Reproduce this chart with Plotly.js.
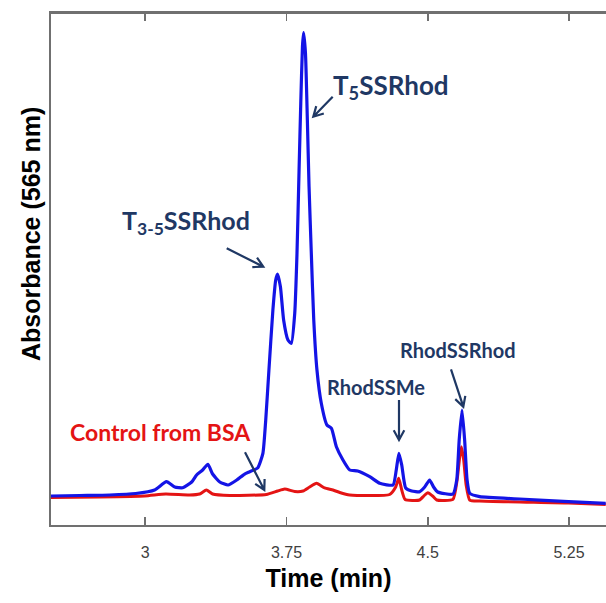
<!DOCTYPE html>
<html>
<head>
<meta charset="utf-8">
<script src="https://cdn.plot.ly/plotly-3.0.1.min.js"></script>
<style>html,body{margin:0;padding:0;background:#fff;}#chart{width:606px;height:603px;}</style>
</head>
<body>
<div id="chart"></div>
<script>
// Sample (blue) chromatogram: time (min) and absorbance (arb. units)
const sampleTime = [2.50,2.652,2.811,2.95,3.05,3.113,3.157,3.199,3.247,3.273,3.305,3.333,3.358,3.396,3.44,3.486,3.528,3.555,3.597,3.625,3.640,3.657,3.678,3.693,3.703,3.718,3.735,3.758,3.776,3.794,3.806,3.817,3.826,3.835,3.841,3.851,3.861,3.870,3.882,3.895,3.912,3.935,3.965,3.989,4.015,4.050,4.086,4.128,4.192,4.245,4.316,4.333,4.347,4.362,4.383,4.415,4.457,4.484,4.510,4.531,4.553,4.634,4.654,4.667,4.682,4.696,4.709,4.723,4.776,4.988,5.248,5.445];
const sampleAbs  = [5.66,5.76,5.86,6.15,6.84,8.46,7.42,7.29,8.4,9.77,10.74,11.86,9.96,8.4,7.81,8.79,9.96,10.41,11.13,14.0,20.5,30.27,41.99,47.85,49.02,46.54,40.04,36.13,35.49,41.35,53.07,69.34,82.42,93.42,96.15,92.13,79.1,66.07,53.07,40.04,30.27,23.77,19.53,18.89,15.29,12.7,10.74,10.55,9.43,8.14,7.81,10.74,14.0,11.72,7.23,6.64,6.5,7.42,8.79,7.42,6.45,6.05,8.79,16.6,22.46,16.6,8.79,6.19,5.53,5.08,4.55,4.24];

// Control from BSA (red) chromatogram
const controlTime = [2.50,2.758,2.997,3.109,3.236,3.289,3.325,3.358,3.449,3.643,3.703,3.741,3.794,3.838,3.873,3.910,3.953,3.997,4.033,4.086,4.298,4.330,4.346,4.362,4.380,4.457,4.479,4.501,4.526,4.548,4.634,4.656,4.668,4.679,4.691,4.704,4.723,4.776,5.248,5.445];
const controlAbs  = [5.37,5.47,5.66,6.05,5.86,6.05,6.84,6.05,5.76,5.96,6.64,7.03,6.54,6.64,7.42,8.14,7.23,6.84,6.35,5.86,5.96,7.42,9.12,6.84,4.98,4.88,5.66,6.31,5.66,4.88,5.02,8.79,12.7,15.29,12.7,7.81,4.88,4.69,4.3,4.0];

const tickVals = [3, 3.75, 4.5, 5.25];
const tickText = ["3", "3.75", "4.5", "5.25"];

// layout geometry (pixels)
const L = 51, TOP = 13, W = 555, H = 512, BOT = TOP + H;
function px(x, y) { return [(x - L) / W, (BOT - y) / H]; }

const navy = "#1f3864";
const axisGray = "#707070";
const annoFont = "Lato, 'Open Sans', sans-serif";

function arrowPath(x1, y1, x2, y2) {
  const a = Math.atan2(y2 - y1, x2 - x1), hl = 11, ha = 0.5;
  const p1 = px(x2 - hl * Math.cos(a - ha), y2 - hl * Math.sin(a - ha));
  const p2 = px(x2 - hl * Math.cos(a + ha), y2 - hl * Math.sin(a + ha));
  const t = px(x1, y1), h = px(x2, y2);
  return `M${t[0]},${t[1]} L${h[0]},${h[1]} M${p1[0]},${p1[1]} L${h[0]},${h[1]} L${p2[0]},${p2[1]}`;
}
function arrow(x1, y1, x2, y2) {
  return {type: "path", xref: "paper", yref: "paper", path: arrowPath(x1, y1, x2, y2),
          line: {color: navy, width: 2.2}};
}
function label(text, x, y, size, color) {
  const p = px(x, y);
  return {xref: "paper", yref: "paper", x: p[0], y: p[1], xanchor: "left", yanchor: "middle",
          showarrow: false, text: "<b>" + text + "</b>",
          font: {family: annoFont, size: size, color: color}};
}

const traces = [
  {x: controlTime, y: controlAbs, type: "scatter", mode: "lines", name: "Control from BSA",
   line: {color: "#e41414", width: 3, shape: "spline", smoothing: 0.5}, hoverinfo: "skip"},
  {x: sampleTime, y: sampleAbs, type: "scatter", mode: "lines", name: "Sample",
   line: {color: "#1414e6", width: 3.2, shape: "spline", smoothing: 0.5}, hoverinfo: "skip"}
];

// top frame line
const topShapes = [{type: "line", xref: "paper", yref: "paper", x0: 0, x1: 1, y0: 1, y1: 1,
                    line: {color: axisGray, width: 2}}];

const ytitle = px(31, 234);
const layout = {
  width: 606, height: 603,
  margin: {l: L, r: 0, t: TOP, b: 603 - BOT, pad: 0},
  paper_bgcolor: "#fff", plot_bgcolor: "#fff",
  showlegend: false,
  xaxis: {
    range: [2.5, 2.5 + W / 188.36], tickvals: tickVals, ticktext: tickText,
    ticks: "inside", ticklen: 8, tickwidth: 1.6, tickcolor: axisGray,
    showline: true, linecolor: axisGray, linewidth: 1.6, mirror: "ticks",
    showgrid: false, zeroline: false,
    ticklabelstandoff: 12,
    tickfont: {family: "Arial, 'Liberation Sans', sans-serif", size: 16, color: "#404040"},
    title: {text: "<b>Time (min)</b>", standoff: 10,
            font: {family: "Arial, 'Liberation Sans', sans-serif", size: 25, color: "#000"}}
  },
  yaxis: {
    range: [0, 100], showticklabels: false, ticks: "",
    showline: true, linecolor: axisGray, linewidth: 1.6, mirror: false,
    showgrid: false, zeroline: false
  },
  shapes: topShapes.concat([
    arrow(332.7, 96.7, 313.3, 116.7),
    arrow(226.7, 248.3, 263.3, 266.7),
    arrow(245, 452.3, 264.3, 490),
    arrow(399, 400, 399, 440),
    arrow(451, 369.3, 463.3, 406.7)
  ]),
  annotations: [
    label("T<sub>5</sub>SSRhod", 331, 86, 26, navy),
    label("T<sub>3-5</sub>SSRhod", 120, 222, 25, navy),
    label("Control from BSA", 68, 432, 23, "#e41414"),
    label("RhodSSMe", 325, 387, 20, navy),
    label("RhodSSRhod", 398, 350, 20, navy),
    {xref: "paper", yref: "paper", x: ytitle[0], y: ytitle[1], xanchor: "center", yanchor: "middle",
     showarrow: false, textangle: -90, text: "<b>Absorbance (565 nm)</b>",
     font: {family: "Arial, 'Liberation Sans', sans-serif", size: 25, color: "#000"}}
  ]
};

Plotly.newPlot("chart", traces, layout, {staticPlot: true, displayModeBar: false});
</script>
</body>
</html>
